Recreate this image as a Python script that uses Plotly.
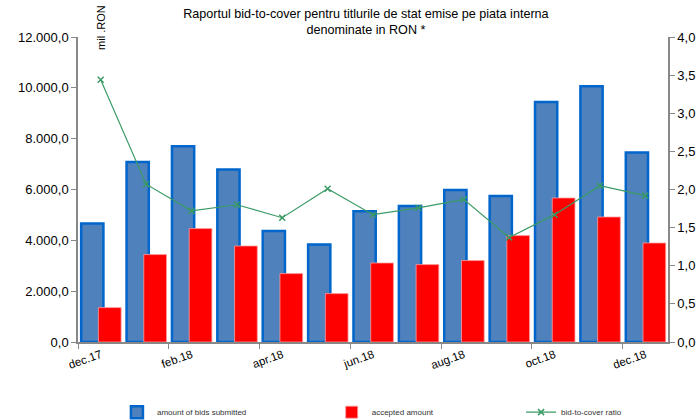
import plotly.graph_objects as go

months = ["dec.17", "ian.18", "feb.18", "mar.18", "apr.18", "mai.18", "jun.18",
          "iul.18", "aug.18", "sep.18", "oct.18", "nov.18", "dec.18"]
bids_submitted = [4658, 7082, 7700, 6783, 4367, 3832, 5142, 5351, 5980, 5744, 9443, 10060, 7452]
accepted_amount = [1353, 3439, 4462, 3777, 2691, 1904, 3108, 3045, 3203, 4186, 5666, 4918, 3895]
bid_to_cover = [3.44, 2.07, 1.72, 1.80, 1.63, 2.01, 1.67, 1.76, 1.87, 1.37, 1.67, 2.05, 1.92]

left_ticks = [0, 2000, 4000, 6000, 8000, 10000, 12000]
left_ticktext = ["0,0", "2.000,0", "4.000,0", "6.000,0", "8.000,0", "10.000,0", "12.000,0"]
right_ticks = [0, 0.5, 1.0, 1.5, 2.0, 2.5, 3.0, 3.5, 4.0]
right_ticktext = ["0,0", "0,5", "1,0", "1,5", "2,0", "2,5", "3,0", "3,5", "4,0"]

xidx = list(range(len(months)))
label_idx = xidx[::2]

fig = go.Figure()
fig.add_trace(go.Bar(
    x=xidx, y=bids_submitted, name="amount of bids submitted",
    offset=-0.43, width=0.49, legend="legend",
    marker=dict(color="#4F81BD", line=dict(color="#0066CC", width=2.5)),
))
fig.add_trace(go.Bar(
    x=xidx, y=accepted_amount, name="accepted amount",
    offset=-0.05, width=0.5, legend="legend2",
    marker=dict(color="#FF0000", line=dict(color="#FF9A9A", width=0.8)),
))
fig.add_trace(go.Scatter(
    x=xidx, y=bid_to_cover, name="bid-to-cover ratio", yaxis="y2",
    mode="lines+markers", legend="legend3",
    line=dict(color="#3A9A66", width=1.2),
    marker=dict(symbol="x-thin", size=6, line=dict(color="#3A9A66", width=1.5)),
))

axis_font = dict(family="Liberation Sans, Arial", size=13, color="#000000")
leg_font = dict(family="Liberation Sans, Arial", size=8, color="#333333")
leg_common = dict(orientation="h", xanchor="left", y=-0.23, yanchor="middle",
                  font=leg_font, itemwidth=30, bgcolor="rgba(0,0,0,0)")

fig.update_layout(
    width=697, height=420,
    margin=dict(l=78, r=29, t=37, b=78, autoexpand=False),
    paper_bgcolor="white", plot_bgcolor="white",
    barmode="overlay",
    showlegend=True,
    title=dict(
        text="Raportul bid-to-cover pentru titlurile de stat emise pe piata interna<br>denominate in RON *",
        x=0.525, xanchor="center", y=0.957, yanchor="top", yref="container",
        font=dict(family="Liberation Sans, Arial", size=12.6, color="#000000"),
    ),
    xaxis=dict(
        range=[-0.5, 12.5], tickvals=label_idx,
        ticktext=[months[i] for i in label_idx],
        tickangle=-20, ticks="", showgrid=False, zeroline=False,
        showline=True, linecolor="#888888", linewidth=1.5,
        tickfont=dict(family="Liberation Sans, Arial", size=11.5, color="#000000"),
        minor=dict(tickvals=[i - 0.5 for i in label_idx], ticks="outside",
                   ticklen=5, tickcolor="#888888", showgrid=False),
    ),
    yaxis=dict(
        range=[0, 12000], tickvals=left_ticks, ticktext=left_ticktext,
        ticks="outside", ticklen=5, tickcolor="#888888",
        showgrid=False, zeroline=False, showline=True,
        linecolor="#888888", linewidth=1.5, tickfont=axis_font,
    ),
    yaxis2=dict(
        range=[0, 4], tickvals=right_ticks, ticktext=right_ticktext,
        overlaying="y", side="right",
        ticks="outside", ticklen=5, tickcolor="#888888",
        showgrid=False, zeroline=False, showline=True,
        linecolor="#888888", linewidth=1.5, tickfont=axis_font,
    ),
    legend=dict(x=0.066, **leg_common),
    legend2=dict(x=0.43, **leg_common),
    legend3=dict(x=0.751, **leg_common),
    annotations=[dict(
        text="mil .RON", xref="paper", yref="paper", x=0.038, y=1.031,
        xanchor="center", yanchor="middle", textangle=-90, showarrow=False,
        font=dict(family="Liberation Sans, Arial", size=11, color="#000000"),
    )],
)

fig.write_html("out.html")
